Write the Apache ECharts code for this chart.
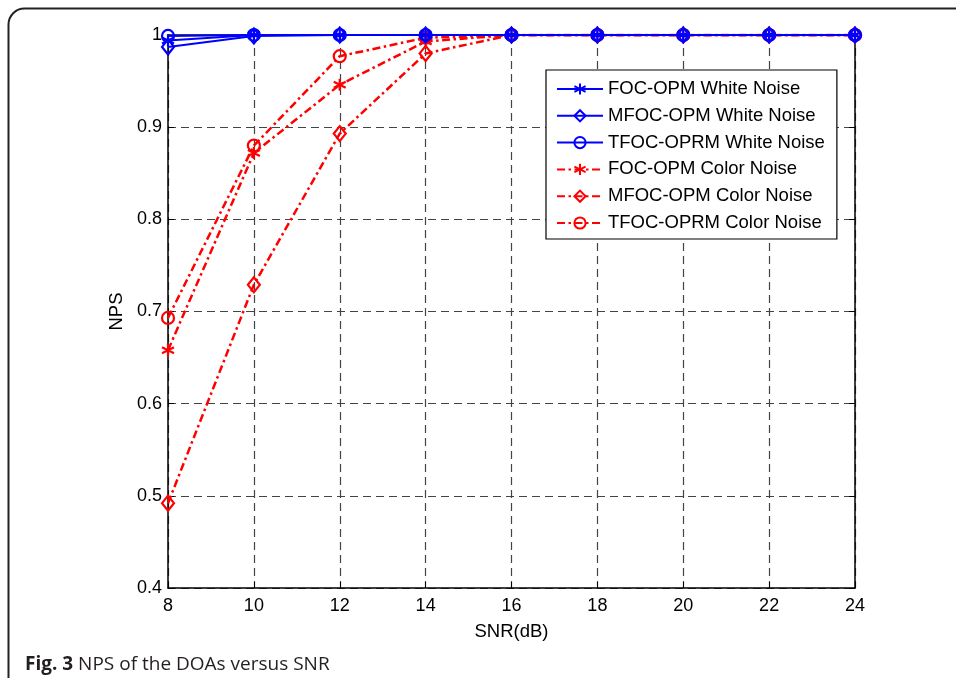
<!DOCTYPE html>
<html>
<head>
<meta charset="utf-8">
<script src="https://cdn.jsdelivr.net/npm/echarts@6/dist/echarts.min.js"></script>
<style>html,body{margin:0;padding:0;background:#fff}#c{width:956px;height:678px}</style>
</head>
<body>
<div id="c"></div>
<script>
var snr = [8, 10, 12, 14, 16, 18, 20, 22, 24];
var focWhite   = [0.994, 1, 1, 1, 1, 1, 1, 1, 1];
var mfocWhite  = [0.987, 0.999, 1, 1, 1, 1, 1, 1, 1];
var tfocWhite  = [0.999, 1, 1, 1, 1, 1, 1, 1, 1];
var focColor   = [0.658, 0.872, 0.946, 0.993, 1, 1, 1, 1, 1];
var mfocColor  = [0.492, 0.729, 0.893, 0.980, 1, 1, 1, 1, 1];
var tfocColor  = [0.693, 0.880, 0.977, 0.997, 1, 1, 1, 1, 1];
var xTickLabels = ['8','10','12','14','16','18','20','22','24'];
var yTickLabels = ['0.4','0.5','0.6','0.7','0.8','0.9','1'];
var seriesNames = ['FOC-OPM White Noise','MFOC-OPM White Noise','TFOC-OPRM White Noise',
                   'FOC-OPM Color Noise','MFOC-OPM Color Noise','TFOC-OPRM Color Noise'];

var FONT = 'Liberation Sans, Arial, Helvetica, sans-serif';
var star = 'path://M0,-10L0,10M-8.66,-5L8.66,5M-8.66,5L8.66,-5';
var blue = '#0000ff', red = '#ff0000';
var dashDot = [8, 3.5, 2.5, 3.5];

function pairs(ys){ return snr.map(function(x,i){ return [x, ys[i]]; }); }
function mk(name, ys, color, sym, size, dashed, z){
  return {
    name: name, type: 'line', data: pairs(ys), z: z,
    symbol: sym, symbolSize: size, showSymbol: true,
    lineStyle: {color: color, width: dashed ? 2.5 : 2, type: dashed ? dashDot : 'solid'},
    itemStyle: {color: 'rgba(0,0,0,0)', borderColor: color, borderWidth: 2.2},
    emphasis: {disabled: true}, animation: false
  };
}

var chart = echarts.init(document.getElementById('c'), null, {renderer: 'canvas'});
var axisCommon = {
  type: 'value', min: 8, max: 24, interval: 2
};
var gridLine = {show: true, lineStyle: {color: '#444', width: 1.2, type: [8, 5]}};
chart.setOption({
  animation: false,
  grid: {left: 168, right: 101, top: 35, bottom: 90, containLabel: false},
  xAxis: [
    Object.assign({}, axisCommon, {
      position: 'bottom',
      name: 'SNR(dB)', nameLocation: 'middle', nameGap: 34,
      nameTextStyle: {fontFamily: FONT, fontSize: 18.5, color: '#000'},
      axisLine: {show: true, onZero: false, lineStyle: {color: '#000', width: 1.5}},
      axisTick: {show: true, inside: true, length: 6, lineStyle: {color: '#000'}},
      axisLabel: {fontFamily: FONT, fontSize: 18, color: '#000', margin: 9,
        formatter: function(v){ return xTickLabels[snr.indexOf(v)] || ''; }},
      splitLine: gridLine
    }),
    Object.assign({}, axisCommon, {
      position: 'top',
      axisLine: {show: true, onZero: false, lineStyle: {color: '#000', width: 1.5}},
      axisTick: {show: true, inside: true, length: 6, lineStyle: {color: '#000'}},
      axisLabel: {show: false}, splitLine: {show: false}
    })
  ],
  yAxis: [
    {
      type: 'value', min: 0.4, max: 1, interval: 0.1, position: 'left',
      name: 'NPS', nameLocation: 'middle', nameGap: 38, nameRotate: 90,
      nameTextStyle: {fontFamily: FONT, fontSize: 18.5, color: '#000'},
      axisLine: {show: true, onZero: false, lineStyle: {color: '#000', width: 1.5}},
      axisTick: {show: true, inside: true, length: 6, lineStyle: {color: '#000'}},
      axisLabel: {fontFamily: FONT, fontSize: 18, color: '#000', margin: 6,
        formatter: function(v){ var k = Math.round((v - 0.4) * 10); return yTickLabels[k] || ''; }},
      splitLine: gridLine
    },
    {
      type: 'value', min: 0.4, max: 1, interval: 0.1, position: 'right',
      axisLine: {show: true, onZero: false, lineStyle: {color: '#000', width: 1.5}},
      axisTick: {show: true, inside: true, length: 6, lineStyle: {color: '#000'}},
      axisLabel: {show: false}, splitLine: {show: false}
    }
  ],
  legend: {
    show: true, orient: 'vertical', left: 546, top: 70,
    backgroundColor: '#fff', borderColor: '#000', borderWidth: 1.2,
    padding: [9, 12, 6, 10], itemGap: 6.8,
    itemWidth: 46, itemHeight: 14,
    textStyle: {fontFamily: FONT, fontSize: 18.5, lineHeight: 20, color: '#000'},
    data: seriesNames,
    selectedMode: false
  },
  series: [
    mk(seriesNames[3], focColor, red, star, 12, true, 3),
    mk(seriesNames[4], mfocColor, red, 'diamond', [12, 15], true, 3),
    mk(seriesNames[5], tfocColor, red, 'circle', 12, true, 3),
    mk(seriesNames[0], focWhite, blue, star, 12, false, 4),
    mk(seriesNames[1], mfocWhite, blue, 'diamond', [12, 15], false, 4),
    mk(seriesNames[2], tfocWhite, blue, 'circle', 12, false, 4)
  ],
  graphic: [
    {type: 'rect', silent: true, shape: {x: 8.5, y: 8.5, width: 1100, height: 800, r: 16},
     style: {fill: 'none', stroke: '#222', lineWidth: 2}},
    {type: 'text', left: 25, top: 655,
     style: {
       text: '{b|Fig. 3} NPS of the DOAs versus SNR',
       rich: {b: {fontFamily: 'Open Sans', fontWeight: 'bold', fontSize: 19, fill: '#231f20'}},
       fontFamily: 'Open Sans', fontSize: 19, fill: '#231f20'
     }}
  ]
});
</script>
</body>
</html>
